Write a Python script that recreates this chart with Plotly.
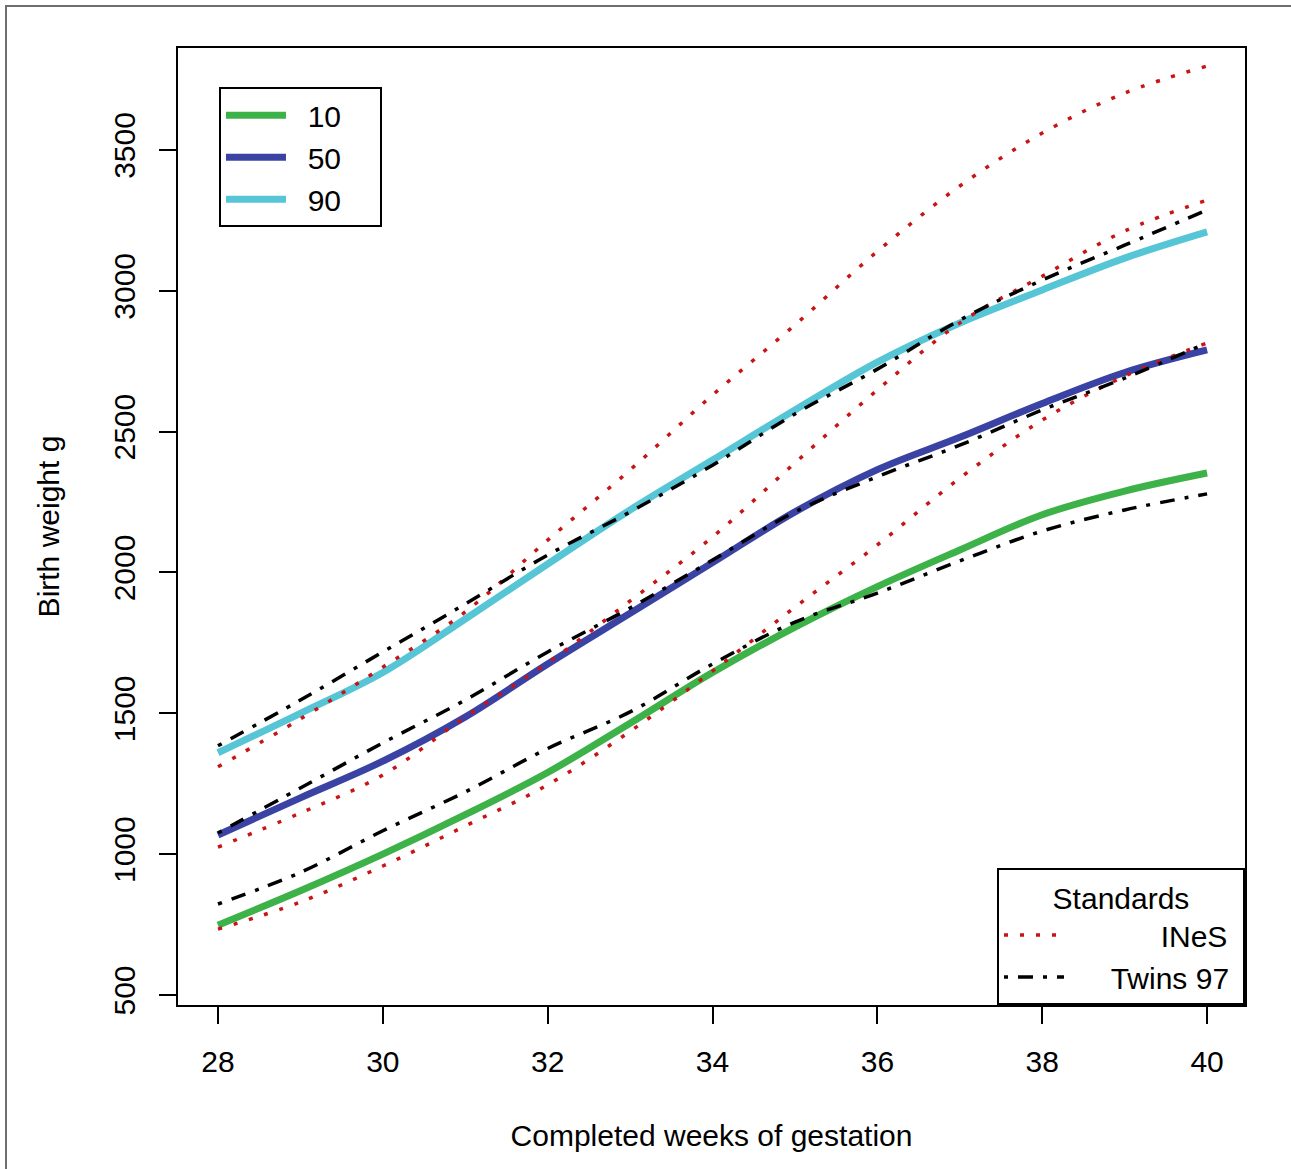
import plotly.graph_objects as go

weeks = [28, 29, 30, 31, 32, 33, 34, 35, 36, 37, 38, 39, 40]

# Study percentiles (thick solid)
p10 = [748, 870, 1000, 1140, 1290, 1465, 1645, 1806, 1950, 2080, 2205, 2289, 2353]
p50 = [1068, 1200, 1330, 1487, 1675, 1855, 2035, 2215, 2365, 2480, 2600, 2710, 2790]
p90 = [1360, 1500, 1645, 1835, 2030, 2222, 2399, 2577, 2747, 2886, 3003, 3116, 3209]

# INeS standards (red dotted)
ines10 = [734, 830, 958, 1100, 1246, 1436, 1650, 1877, 2098, 2335, 2541, 2697, 2815]
ines50 = [1025, 1146, 1281, 1487, 1679, 1899, 2126, 2389, 2648, 2886, 3052, 3212, 3322]
ines90 = [1310, 1480, 1664, 1860, 2115, 2364, 2630, 2879, 3140, 3372, 3560, 3702, 3798]

# Twins 97 standards (black dash-dot)
tw10 = [823, 935, 1083, 1221, 1375, 1505, 1675, 1824, 1927, 2041, 2147, 2222, 2279]
tw50 = [1075, 1235, 1395, 1547, 1718, 1874, 2044, 2215, 2340, 2452, 2577, 2690, 2815]
tw90 = [1385, 1547, 1718, 1888, 2062, 2215, 2381, 2563, 2722, 2896, 3038, 3162, 3287]

pct_names = ["10", "50", "90"]
pct_colors = ["rgb(60,178,72)", "rgb(58,66,164)", "rgb(86,197,214)"]

x_ticks = [28, 30, 32, 34, 36, 38, 40]
y_ticks = [500, 1000, 1500, 2000, 2500, 3000, 3500]

FONT = "Liberation Sans, Arial, sans-serif"
NB = "\u00a0"

fig = go.Figure()

for name, ys, col in zip(pct_names, [p10, p50, p90], pct_colors):
    fig.add_trace(go.Scatter(
        x=weeks, y=ys, mode="lines", name=NB * 2 + name + NB * 4,
        line=dict(color=col, width=7, shape="spline"),
        legend="legend",
    ))

for i, ys in enumerate([ines10, ines50, ines90]):
    fig.add_trace(go.Scatter(
        x=weeks, y=ys, mode="lines", name=NB * 11 + "INeS" + NB,
        line=dict(color="rgb(200,20,20)", width=3.5, dash="4px,12px", shape="spline"),
        legend="legend2", legendgroup="ines", showlegend=(i == 0),
    ))

for i, ys in enumerate([tw10, tw50, tw90]):
    fig.add_trace(go.Scatter(
        x=weeks, y=ys, mode="lines", name=NB * 5 + "Twins 97" + NB,
        line=dict(color="black", width=3.5, dash="4px,10px,15px,10px", shape="spline"),
        legend="legend2", legendgroup="twins", showlegend=(i == 0),
    ))

axis_common = dict(
    showgrid=False, zeroline=False,
    showline=True, mirror=True, linecolor="black", linewidth=2,
    ticks="outside", ticklen=17, tickwidth=2, tickcolor="black",
    tickfont=dict(family=FONT, size=30, color="black"),
)

fig.update_layout(
    width=1291, height=1169,
    margin=dict(l=178, r=46, t=48, b=164),
    paper_bgcolor="white", plot_bgcolor="white",
    font=dict(family=FONT, size=30, color="black"),
    xaxis=dict(
        range=[27.515, 40.46], tickvals=x_ticks, ticklabelstandoff=12,
        title=dict(text="Completed weeks of gestation", standoff=48,
                   font=dict(family=FONT, size=30, color="black")),
        **axis_common,
    ),
    yaxis=dict(
        range=[464.5, 3862], tickvals=y_ticks, tickangle=-90, ticklabelstandoff=12,
        title=dict(text="Birth weight g", standoff=40,
                   font=dict(family=FONT, size=30, color="black")),
        **axis_common,
    ),
    legend=dict(
        x=0.0384, y=0.959, xanchor="left", yanchor="top",
        bgcolor="white", bordercolor="black", borderwidth=2,
        font=dict(family=FONT, size=30, color="black"),
        itemwidth=60, tracegroupgap=0,
    ),
    legend2=dict(
        x=1, y=0, xanchor="right", yanchor="bottom",
        bgcolor="white", bordercolor="black", borderwidth=2,
        font=dict(family=FONT, size=30, color="black"),
        title=dict(text="Standards", side="top center",
                   font=dict(family=FONT, size=30, color="black")),
        itemwidth=60, tracegroupgap=0,
    ),
    shapes=[
        dict(type="path", xref="paper", yref="paper",
             path="M -0.1612,-0.2 L -0.1612,1.0439 L 1.1,1.0439",
             line=dict(color="rgb(110,110,110)", width=2)),
    ],
)

fig.write_html("out.html")
